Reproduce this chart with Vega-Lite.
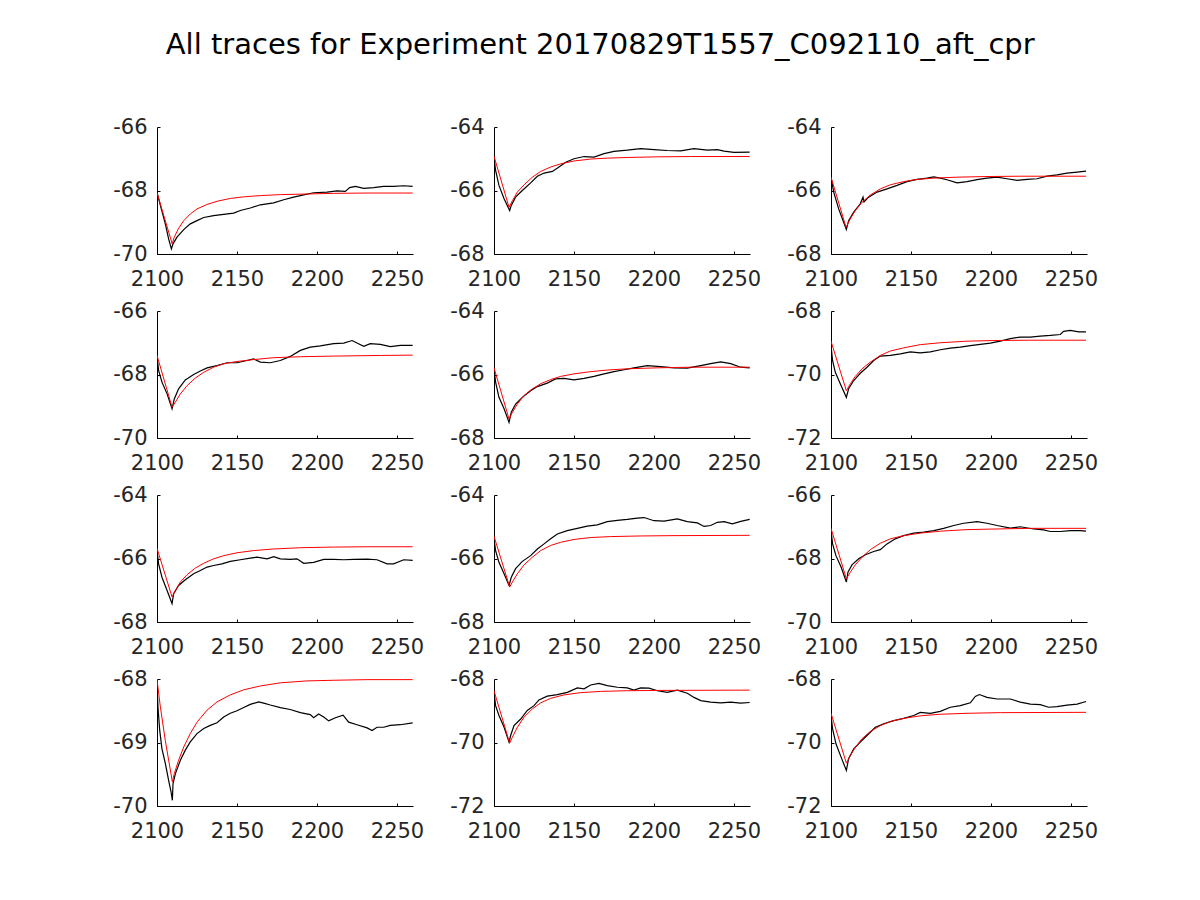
{
"$schema":"https://vega.github.io/schema/vega-lite/v6.json",
"padding":{"left":112,"top":31,"right":5,"bottom":5},
"title":{"text":"All traces for Experiment 20170829T1557_C092110_aft_cpr","fontSize":29,"font":"DejaVu Sans","fontWeight":"normal","color":"#000000","anchor":"middle","offset":56,"dx":-5},
"config":{"view":{"stroke":null},"axis":{"grid":false,"domainColor":"#000000","tickColor":"#000000","tickSize":-3,"labelPadding":13,"labelFont":"DejaVu Sans","labelFontSize":21,"labelColor":"#262626","labelFlush":false,"labelOverlap":false,"domainWidth":1,"tickWidth":1,"labelExpr":"'' + datum.value"},"axisX":{"labelPadding":17}},
"datasets":{"d":[
{"p":1,"s":"t","x":2100,"y":-68.05},{"p":1,"s":"t","x":2102.1,"y":-68.47},{"p":1,"s":"t","x":2105.2,"y":-69.05},{"p":1,"s":"t","x":2107.3,"y":-69.53},{"p":1,"s":"t","x":2109,"y":-69.84},{"p":1,"s":"t","x":2110,"y":-69.68},{"p":1,"s":"t","x":2112.5,"y":-69.47},{"p":1,"s":"t","x":2116.7,"y":-69.23},{"p":1,"s":"t","x":2120.8,"y":-69.05},{"p":1,"s":"t","x":2125,"y":-68.95},{"p":1,"s":"t","x":2129.2,"y":-68.85},{"p":1,"s":"t","x":2135.4,"y":-68.79},{"p":1,"s":"t","x":2141.7,"y":-68.75},{"p":1,"s":"t","x":2147.9,"y":-68.71},{"p":1,"s":"t","x":2152.1,"y":-68.63},{"p":1,"s":"t","x":2158.3,"y":-68.55},{"p":1,"s":"t","x":2164.6,"y":-68.45},{"p":1,"s":"t","x":2172.9,"y":-68.39},{"p":1,"s":"t","x":2179.2,"y":-68.29},{"p":1,"s":"t","x":2185.4,"y":-68.21},{"p":1,"s":"t","x":2191.7,"y":-68.14},{"p":1,"s":"t","x":2197.9,"y":-68.07},{"p":1,"s":"t","x":2206.3,"y":-68.05},{"p":1,"s":"t","x":2212.5,"y":-68.01},{"p":1,"s":"t","x":2217.7,"y":-68.03},{"p":1,"s":"t","x":2220.4,"y":-67.91},{"p":1,"s":"t","x":2224,"y":-67.87},{"p":1,"s":"t","x":2229.2,"y":-67.93},{"p":1,"s":"t","x":2235.4,"y":-67.91},{"p":1,"s":"t","x":2241.7,"y":-67.87},{"p":1,"s":"t","x":2247.9,"y":-67.87},{"p":1,"s":"t","x":2254.2,"y":-67.85},{"p":1,"s":"t","x":2259.8,"y":-67.87},
{"p":1,"s":"f","x":2100,"y":-68.07},{"p":1,"s":"f","x":2109.5,"y":-69.68},{"p":1,"s":"f","x":2110.8,"y":-69.47},{"p":1,"s":"f","x":2113.5,"y":-69.19},{"p":1,"s":"f","x":2116.7,"y":-68.95},{"p":1,"s":"f","x":2120.8,"y":-68.74},{"p":1,"s":"f","x":2125,"y":-68.58},{"p":1,"s":"f","x":2131.3,"y":-68.44},{"p":1,"s":"f","x":2137.5,"y":-68.34},{"p":1,"s":"f","x":2145.8,"y":-68.25},{"p":1,"s":"f","x":2154.2,"y":-68.2},{"p":1,"s":"f","x":2164.6,"y":-68.16},{"p":1,"s":"f","x":2177.1,"y":-68.13},{"p":1,"s":"f","x":2193.8,"y":-68.11},{"p":1,"s":"f","x":2210.4,"y":-68.09},{"p":1,"s":"f","x":2231.3,"y":-68.08},{"p":1,"s":"f","x":2259.8,"y":-68.08},
{"p":2,"s":"t","x":2100,"y":-64.95},{"p":2,"s":"t","x":2101,"y":-65.37},{"p":2,"s":"t","x":2103.1,"y":-65.84},{"p":2,"s":"t","x":2106.3,"y":-66.26},{"p":2,"s":"t","x":2109.8,"y":-66.63},{"p":2,"s":"t","x":2110.8,"y":-66.47},{"p":2,"s":"t","x":2113.5,"y":-66.21},{"p":2,"s":"t","x":2117.7,"y":-66},{"p":2,"s":"t","x":2122.9,"y":-65.76},{"p":2,"s":"t","x":2127.1,"y":-65.55},{"p":2,"s":"t","x":2131.3,"y":-65.45},{"p":2,"s":"t","x":2136.5,"y":-65.4},{"p":2,"s":"t","x":2140.6,"y":-65.26},{"p":2,"s":"t","x":2144.8,"y":-65.11},{"p":2,"s":"t","x":2150,"y":-65},{"p":2,"s":"t","x":2156.3,"y":-64.93},{"p":2,"s":"t","x":2162.5,"y":-64.95},{"p":2,"s":"t","x":2168.8,"y":-64.84},{"p":2,"s":"t","x":2175,"y":-64.77},{"p":2,"s":"t","x":2183.3,"y":-64.73},{"p":2,"s":"t","x":2191.7,"y":-64.68},{"p":2,"s":"t","x":2200,"y":-64.71},{"p":2,"s":"t","x":2208.3,"y":-64.74},{"p":2,"s":"t","x":2216.7,"y":-64.75},{"p":2,"s":"t","x":2225,"y":-64.68},{"p":2,"s":"t","x":2233.3,"y":-64.73},{"p":2,"s":"t","x":2239.6,"y":-64.71},{"p":2,"s":"t","x":2243.8,"y":-64.76},{"p":2,"s":"t","x":2250,"y":-64.8},{"p":2,"s":"t","x":2259.8,"y":-64.79},
{"p":2,"s":"f","x":2100,"y":-64.92},{"p":2,"s":"f","x":2109.4,"y":-66.53},{"p":2,"s":"f","x":2111.5,"y":-66.32},{"p":2,"s":"f","x":2114.6,"y":-66.05},{"p":2,"s":"f","x":2118.8,"y":-65.82},{"p":2,"s":"f","x":2124,"y":-65.58},{"p":2,"s":"f","x":2129.2,"y":-65.4},{"p":2,"s":"f","x":2135.4,"y":-65.26},{"p":2,"s":"f","x":2141.7,"y":-65.16},{"p":2,"s":"f","x":2150,"y":-65.07},{"p":2,"s":"f","x":2160.4,"y":-65.01},{"p":2,"s":"f","x":2170.8,"y":-64.98},{"p":2,"s":"f","x":2183.3,"y":-64.96},{"p":2,"s":"f","x":2202.1,"y":-64.94},{"p":2,"s":"f","x":2222.9,"y":-64.93},{"p":2,"s":"f","x":2259.8,"y":-64.93},
{"p":3,"s":"t","x":2100,"y":-65.58},{"p":3,"s":"t","x":2101.7,"y":-66.05},{"p":3,"s":"t","x":2104.8,"y":-66.58},{"p":3,"s":"t","x":2107.9,"y":-67},{"p":3,"s":"t","x":2109.6,"y":-67.23},{"p":3,"s":"t","x":2111,"y":-66.95},{"p":3,"s":"t","x":2114.2,"y":-66.68},{"p":3,"s":"t","x":2118.3,"y":-66.42},{"p":3,"s":"t","x":2120,"y":-66.21},{"p":3,"s":"t","x":2120.6,"y":-66.36},{"p":3,"s":"t","x":2123.5,"y":-66.21},{"p":3,"s":"t","x":2128.8,"y":-66.05},{"p":3,"s":"t","x":2135,"y":-65.95},{"p":3,"s":"t","x":2141.3,"y":-65.84},{"p":3,"s":"t","x":2147.5,"y":-65.72},{"p":3,"s":"t","x":2153.8,"y":-65.65},{"p":3,"s":"t","x":2160,"y":-65.61},{"p":3,"s":"t","x":2164.2,"y":-65.57},{"p":3,"s":"t","x":2168.3,"y":-65.61},{"p":3,"s":"t","x":2172.5,"y":-65.66},{"p":3,"s":"t","x":2178.8,"y":-65.76},{"p":3,"s":"t","x":2185,"y":-65.72},{"p":3,"s":"t","x":2191.3,"y":-65.66},{"p":3,"s":"t","x":2197.5,"y":-65.61},{"p":3,"s":"t","x":2203.8,"y":-65.58},{"p":3,"s":"t","x":2210,"y":-65.63},{"p":3,"s":"t","x":2216.3,"y":-65.68},{"p":3,"s":"t","x":2222.5,"y":-65.65},{"p":3,"s":"t","x":2228.8,"y":-65.63},{"p":3,"s":"t","x":2235,"y":-65.55},{"p":3,"s":"t","x":2241.3,"y":-65.51},{"p":3,"s":"t","x":2247.5,"y":-65.45},{"p":3,"s":"t","x":2253.8,"y":-65.42},{"p":3,"s":"t","x":2259.4,"y":-65.39},
{"p":3,"s":"f","x":2100,"y":-65.58},{"p":3,"s":"f","x":2109.4,"y":-67.16},{"p":3,"s":"f","x":2112.1,"y":-66.89},{"p":3,"s":"f","x":2115.2,"y":-66.63},{"p":3,"s":"f","x":2119.4,"y":-66.37},{"p":3,"s":"f","x":2124.6,"y":-66.14},{"p":3,"s":"f","x":2130.8,"y":-65.95},{"p":3,"s":"f","x":2137.1,"y":-65.82},{"p":3,"s":"f","x":2145.4,"y":-65.72},{"p":3,"s":"f","x":2153.8,"y":-65.65},{"p":3,"s":"f","x":2164.2,"y":-65.61},{"p":3,"s":"f","x":2178.8,"y":-65.58},{"p":3,"s":"f","x":2197.5,"y":-65.56},{"p":3,"s":"f","x":2218.3,"y":-65.55},{"p":3,"s":"f","x":2259.4,"y":-65.55},
{"p":4,"s":"t","x":2100,"y":-67.43},{"p":4,"s":"t","x":2101,"y":-67.87},{"p":4,"s":"t","x":2103.1,"y":-68.24},{"p":4,"s":"t","x":2106.3,"y":-68.61},{"p":4,"s":"t","x":2109.4,"y":-69.08},{"p":4,"s":"t","x":2110.8,"y":-68.77},{"p":4,"s":"t","x":2113.5,"y":-68.45},{"p":4,"s":"t","x":2117.7,"y":-68.17},{"p":4,"s":"t","x":2122.9,"y":-68},{"p":4,"s":"t","x":2127.1,"y":-67.89},{"p":4,"s":"t","x":2131.3,"y":-67.79},{"p":4,"s":"t","x":2137.5,"y":-67.72},{"p":4,"s":"t","x":2143.8,"y":-67.63},{"p":4,"s":"t","x":2150,"y":-67.63},{"p":4,"s":"t","x":2156.3,"y":-67.56},{"p":4,"s":"t","x":2160.4,"y":-67.51},{"p":4,"s":"t","x":2164.6,"y":-67.61},{"p":4,"s":"t","x":2170.8,"y":-67.63},{"p":4,"s":"t","x":2177.1,"y":-67.56},{"p":4,"s":"t","x":2183.3,"y":-67.43},{"p":4,"s":"t","x":2189.6,"y":-67.24},{"p":4,"s":"t","x":2195.8,"y":-67.14},{"p":4,"s":"t","x":2202.1,"y":-67.1},{"p":4,"s":"t","x":2210.4,"y":-67.03},{"p":4,"s":"t","x":2216.7,"y":-67.01},{"p":4,"s":"t","x":2221.9,"y":-66.93},{"p":4,"s":"t","x":2225,"y":-67.01},{"p":4,"s":"t","x":2229.2,"y":-67.11},{"p":4,"s":"t","x":2233.3,"y":-67.03},{"p":4,"s":"t","x":2239.6,"y":-67.05},{"p":4,"s":"t","x":2245.8,"y":-67.12},{"p":4,"s":"t","x":2252.1,"y":-67.08},{"p":4,"s":"t","x":2259.8,"y":-67.08},
{"p":4,"s":"f","x":2100,"y":-67.4},{"p":4,"s":"f","x":2109.4,"y":-69.03},{"p":4,"s":"f","x":2111.5,"y":-68.87},{"p":4,"s":"f","x":2114.6,"y":-68.61},{"p":4,"s":"f","x":2118.8,"y":-68.35},{"p":4,"s":"f","x":2124,"y":-68.11},{"p":4,"s":"f","x":2129.2,"y":-67.93},{"p":4,"s":"f","x":2135.4,"y":-67.77},{"p":4,"s":"f","x":2141.7,"y":-67.66},{"p":4,"s":"f","x":2150,"y":-67.59},{"p":4,"s":"f","x":2160.4,"y":-67.53},{"p":4,"s":"f","x":2172.9,"y":-67.47},{"p":4,"s":"f","x":2189.6,"y":-67.44},{"p":4,"s":"f","x":2210.4,"y":-67.42},{"p":4,"s":"f","x":2239.6,"y":-67.4},{"p":4,"s":"f","x":2259.8,"y":-67.39},
{"p":5,"s":"t","x":2100,"y":-65.82},{"p":5,"s":"t","x":2101,"y":-66.24},{"p":5,"s":"t","x":2103.1,"y":-66.72},{"p":5,"s":"t","x":2106.3,"y":-67.08},{"p":5,"s":"t","x":2109.4,"y":-67.51},{"p":5,"s":"t","x":2110.8,"y":-67.19},{"p":5,"s":"t","x":2113.5,"y":-66.93},{"p":5,"s":"t","x":2117.7,"y":-66.72},{"p":5,"s":"t","x":2122.9,"y":-66.51},{"p":5,"s":"t","x":2127.1,"y":-66.38},{"p":5,"s":"t","x":2133.3,"y":-66.27},{"p":5,"s":"t","x":2138.5,"y":-66.14},{"p":5,"s":"t","x":2143.8,"y":-66.12},{"p":5,"s":"t","x":2150,"y":-66.17},{"p":5,"s":"t","x":2156.3,"y":-66.12},{"p":5,"s":"t","x":2162.5,"y":-66.06},{"p":5,"s":"t","x":2168.8,"y":-65.98},{"p":5,"s":"t","x":2175,"y":-65.91},{"p":5,"s":"t","x":2181.3,"y":-65.85},{"p":5,"s":"t","x":2187.5,"y":-65.79},{"p":5,"s":"t","x":2195.8,"y":-65.72},{"p":5,"s":"t","x":2204.2,"y":-65.75},{"p":5,"s":"t","x":2212.5,"y":-65.79},{"p":5,"s":"t","x":2220.8,"y":-65.8},{"p":5,"s":"t","x":2229.2,"y":-65.72},{"p":5,"s":"t","x":2235.4,"y":-65.66},{"p":5,"s":"t","x":2241.7,"y":-65.6},{"p":5,"s":"t","x":2247.9,"y":-65.66},{"p":5,"s":"t","x":2254.2,"y":-65.77},{"p":5,"s":"t","x":2259.8,"y":-65.79},
{"p":5,"s":"f","x":2100,"y":-65.79},{"p":5,"s":"f","x":2109.4,"y":-67.4},{"p":5,"s":"f","x":2111.5,"y":-67.19},{"p":5,"s":"f","x":2114.6,"y":-66.93},{"p":5,"s":"f","x":2118.8,"y":-66.66},{"p":5,"s":"f","x":2124,"y":-66.45},{"p":5,"s":"f","x":2129.2,"y":-66.29},{"p":5,"s":"f","x":2135.4,"y":-66.16},{"p":5,"s":"f","x":2141.7,"y":-66.06},{"p":5,"s":"f","x":2150,"y":-65.98},{"p":5,"s":"f","x":2160.4,"y":-65.91},{"p":5,"s":"f","x":2170.8,"y":-65.86},{"p":5,"s":"f","x":2183.3,"y":-65.82},{"p":5,"s":"f","x":2202.1,"y":-65.79},{"p":5,"s":"f","x":2222.9,"y":-65.77},{"p":5,"s":"f","x":2259.8,"y":-65.77},
{"p":6,"s":"t","x":2100,"y":-69.08},{"p":6,"s":"t","x":2101,"y":-69.56},{"p":6,"s":"t","x":2102.7,"y":-69.93},{"p":6,"s":"t","x":2105.8,"y":-70.29},{"p":6,"s":"t","x":2109.6,"y":-70.72},{"p":6,"s":"t","x":2111,"y":-70.45},{"p":6,"s":"t","x":2114.2,"y":-70.19},{"p":6,"s":"t","x":2118.3,"y":-69.96},{"p":6,"s":"t","x":2122.5,"y":-69.77},{"p":6,"s":"t","x":2126.7,"y":-69.56},{"p":6,"s":"t","x":2130.8,"y":-69.42},{"p":6,"s":"t","x":2137.1,"y":-69.4},{"p":6,"s":"t","x":2143.3,"y":-69.35},{"p":6,"s":"t","x":2149.6,"y":-69.29},{"p":6,"s":"t","x":2155.8,"y":-69.32},{"p":6,"s":"t","x":2162.1,"y":-69.29},{"p":6,"s":"t","x":2168.3,"y":-69.22},{"p":6,"s":"t","x":2174.6,"y":-69.17},{"p":6,"s":"t","x":2180.8,"y":-69.14},{"p":6,"s":"t","x":2187.1,"y":-69.09},{"p":6,"s":"t","x":2193.3,"y":-69.05},{"p":6,"s":"t","x":2199.6,"y":-69.01},{"p":6,"s":"t","x":2205.8,"y":-68.95},{"p":6,"s":"t","x":2212.1,"y":-68.87},{"p":6,"s":"t","x":2218.3,"y":-68.82},{"p":6,"s":"t","x":2224.6,"y":-68.82},{"p":6,"s":"t","x":2230.8,"y":-68.79},{"p":6,"s":"t","x":2237.1,"y":-68.77},{"p":6,"s":"t","x":2243.3,"y":-68.74},{"p":6,"s":"t","x":2245.4,"y":-68.64},{"p":6,"s":"t","x":2249.6,"y":-68.61},{"p":6,"s":"t","x":2254.8,"y":-68.66},{"p":6,"s":"t","x":2259.4,"y":-68.66},
{"p":6,"s":"f","x":2100,"y":-68.95},{"p":6,"s":"f","x":2109.6,"y":-70.51},{"p":6,"s":"f","x":2112.1,"y":-70.29},{"p":6,"s":"f","x":2115.2,"y":-70.06},{"p":6,"s":"f","x":2119.4,"y":-69.82},{"p":6,"s":"f","x":2124.6,"y":-69.61},{"p":6,"s":"f","x":2130.8,"y":-69.4},{"p":6,"s":"f","x":2137.1,"y":-69.26},{"p":6,"s":"f","x":2145.4,"y":-69.16},{"p":6,"s":"f","x":2155.8,"y":-69.06},{"p":6,"s":"f","x":2168.3,"y":-69},{"p":6,"s":"f","x":2185,"y":-68.95},{"p":6,"s":"f","x":2201.7,"y":-68.93},{"p":6,"s":"f","x":2224.6,"y":-68.92},{"p":6,"s":"f","x":2259.4,"y":-68.92},
{"p":7,"s":"t","x":2100,"y":-65.75},{"p":7,"s":"t","x":2101,"y":-66.17},{"p":7,"s":"t","x":2103.1,"y":-66.59},{"p":7,"s":"t","x":2106.3,"y":-67.01},{"p":7,"s":"t","x":2109.4,"y":-67.42},{"p":7,"s":"t","x":2110.4,"y":-67.11},{"p":7,"s":"t","x":2113.5,"y":-66.85},{"p":7,"s":"t","x":2117.7,"y":-66.67},{"p":7,"s":"t","x":2122.9,"y":-66.48},{"p":7,"s":"t","x":2127.1,"y":-66.38},{"p":7,"s":"t","x":2131.3,"y":-66.27},{"p":7,"s":"t","x":2135.4,"y":-66.22},{"p":7,"s":"t","x":2140.6,"y":-66.17},{"p":7,"s":"t","x":2145.8,"y":-66.09},{"p":7,"s":"t","x":2152.1,"y":-66.04},{"p":7,"s":"t","x":2158.3,"y":-65.99},{"p":7,"s":"t","x":2162.5,"y":-65.96},{"p":7,"s":"t","x":2168.8,"y":-66.01},{"p":7,"s":"t","x":2172.9,"y":-65.94},{"p":7,"s":"t","x":2177.1,"y":-66.01},{"p":7,"s":"t","x":2183.3,"y":-66.03},{"p":7,"s":"t","x":2187.5,"y":-66.01},{"p":7,"s":"t","x":2191.7,"y":-66.15},{"p":7,"s":"t","x":2197.9,"y":-66.12},{"p":7,"s":"t","x":2204.2,"y":-66.03},{"p":7,"s":"t","x":2210.4,"y":-66.03},{"p":7,"s":"t","x":2216.7,"y":-66.04},{"p":7,"s":"t","x":2222.9,"y":-66.03},{"p":7,"s":"t","x":2231.3,"y":-66.02},{"p":7,"s":"t","x":2237.5,"y":-66.04},{"p":7,"s":"t","x":2243.8,"y":-66.17},{"p":7,"s":"t","x":2247.9,"y":-66.17},{"p":7,"s":"t","x":2254.2,"y":-66.04},{"p":7,"s":"t","x":2259.8,"y":-66.06},
{"p":7,"s":"f","x":2100,"y":-65.68},{"p":7,"s":"f","x":2109.4,"y":-67.21},{"p":7,"s":"f","x":2111.5,"y":-67.01},{"p":7,"s":"f","x":2114.6,"y":-66.74},{"p":7,"s":"f","x":2118.8,"y":-66.51},{"p":7,"s":"f","x":2124,"y":-66.3},{"p":7,"s":"f","x":2129.2,"y":-66.15},{"p":7,"s":"f","x":2135.4,"y":-66.01},{"p":7,"s":"f","x":2141.7,"y":-65.91},{"p":7,"s":"f","x":2150,"y":-65.82},{"p":7,"s":"f","x":2160.4,"y":-65.75},{"p":7,"s":"f","x":2172.9,"y":-65.7},{"p":7,"s":"f","x":2189.6,"y":-65.66},{"p":7,"s":"f","x":2210.4,"y":-65.64},{"p":7,"s":"f","x":2231.3,"y":-65.63},{"p":7,"s":"f","x":2259.8,"y":-65.63},
{"p":8,"s":"t","x":2100,"y":-65.38},{"p":8,"s":"t","x":2101,"y":-65.75},{"p":8,"s":"t","x":2103.1,"y":-66.12},{"p":8,"s":"t","x":2106.3,"y":-66.48},{"p":8,"s":"t","x":2109.4,"y":-66.85},{"p":8,"s":"t","x":2110.8,"y":-66.59},{"p":8,"s":"t","x":2113.5,"y":-66.32},{"p":8,"s":"t","x":2117.7,"y":-66.09},{"p":8,"s":"t","x":2122.9,"y":-65.91},{"p":8,"s":"t","x":2127.1,"y":-65.7},{"p":8,"s":"t","x":2131.3,"y":-65.54},{"p":8,"s":"t","x":2135.4,"y":-65.38},{"p":8,"s":"t","x":2139.6,"y":-65.23},{"p":8,"s":"t","x":2145.8,"y":-65.12},{"p":8,"s":"t","x":2152.1,"y":-65.05},{"p":8,"s":"t","x":2158.3,"y":-64.98},{"p":8,"s":"t","x":2164.6,"y":-64.94},{"p":8,"s":"t","x":2170.8,"y":-64.84},{"p":8,"s":"t","x":2177.1,"y":-64.8},{"p":8,"s":"t","x":2183.3,"y":-64.77},{"p":8,"s":"t","x":2189.6,"y":-64.73},{"p":8,"s":"t","x":2193.8,"y":-64.71},{"p":8,"s":"t","x":2200,"y":-64.81},{"p":8,"s":"t","x":2206.3,"y":-64.82},{"p":8,"s":"t","x":2214.6,"y":-64.75},{"p":8,"s":"t","x":2220.8,"y":-64.84},{"p":8,"s":"t","x":2227.1,"y":-64.88},{"p":8,"s":"t","x":2231.3,"y":-64.99},{"p":8,"s":"t","x":2235.4,"y":-64.96},{"p":8,"s":"t","x":2239.6,"y":-64.86},{"p":8,"s":"t","x":2243.8,"y":-64.84},{"p":8,"s":"t","x":2249,"y":-64.91},{"p":8,"s":"t","x":2254.2,"y":-64.83},{"p":8,"s":"t","x":2259.8,"y":-64.77},
{"p":8,"s":"f","x":2100,"y":-65.3},{"p":8,"s":"f","x":2109.8,"y":-66.9},{"p":8,"s":"f","x":2111.5,"y":-66.74},{"p":8,"s":"f","x":2114.6,"y":-66.48},{"p":8,"s":"f","x":2118.8,"y":-66.2},{"p":8,"s":"f","x":2124,"y":-65.96},{"p":8,"s":"f","x":2129.2,"y":-65.75},{"p":8,"s":"f","x":2135.4,"y":-65.59},{"p":8,"s":"f","x":2141.7,"y":-65.49},{"p":8,"s":"f","x":2150,"y":-65.4},{"p":8,"s":"f","x":2160.4,"y":-65.34},{"p":8,"s":"f","x":2172.9,"y":-65.31},{"p":8,"s":"f","x":2191.7,"y":-65.29},{"p":8,"s":"f","x":2212.5,"y":-65.28},{"p":8,"s":"f","x":2259.8,"y":-65.27},
{"p":9,"s":"t","x":2100,"y":-67.12},{"p":9,"s":"t","x":2101,"y":-67.54},{"p":9,"s":"t","x":2103.1,"y":-67.91},{"p":9,"s":"t","x":2106.3,"y":-68.27},{"p":9,"s":"t","x":2109.6,"y":-68.74},{"p":9,"s":"t","x":2110.6,"y":-68.43},{"p":9,"s":"t","x":2113.1,"y":-68.2},{"p":9,"s":"t","x":2117.3,"y":-68.01},{"p":9,"s":"t","x":2121.5,"y":-67.88},{"p":9,"s":"t","x":2126.7,"y":-67.78},{"p":9,"s":"t","x":2130.8,"y":-67.72},{"p":9,"s":"t","x":2135,"y":-67.54},{"p":9,"s":"t","x":2140.2,"y":-67.38},{"p":9,"s":"t","x":2145.4,"y":-67.28},{"p":9,"s":"t","x":2151.7,"y":-67.2},{"p":9,"s":"t","x":2157.9,"y":-67.17},{"p":9,"s":"t","x":2164.2,"y":-67.12},{"p":9,"s":"t","x":2170.4,"y":-67.05},{"p":9,"s":"t","x":2176.7,"y":-66.96},{"p":9,"s":"t","x":2182.9,"y":-66.89},{"p":9,"s":"t","x":2191.3,"y":-66.84},{"p":9,"s":"t","x":2197.5,"y":-66.89},{"p":9,"s":"t","x":2203.8,"y":-66.96},{"p":9,"s":"t","x":2212.1,"y":-67.04},{"p":9,"s":"t","x":2218.3,"y":-67},{"p":9,"s":"t","x":2226.7,"y":-67.07},{"p":9,"s":"t","x":2232.9,"y":-67.1},{"p":9,"s":"t","x":2237.1,"y":-67.15},{"p":9,"s":"t","x":2243.3,"y":-67.15},{"p":9,"s":"t","x":2249.6,"y":-67.12},{"p":9,"s":"t","x":2255.8,"y":-67.12},{"p":9,"s":"t","x":2259.4,"y":-67.14},
{"p":9,"s":"f","x":2100,"y":-67.05},{"p":9,"s":"f","x":2109.6,"y":-68.64},{"p":9,"s":"f","x":2112.1,"y":-68.43},{"p":9,"s":"f","x":2115.2,"y":-68.2},{"p":9,"s":"f","x":2119.4,"y":-67.96},{"p":9,"s":"f","x":2124.6,"y":-67.72},{"p":9,"s":"f","x":2130.8,"y":-67.52},{"p":9,"s":"f","x":2137.1,"y":-67.38},{"p":9,"s":"f","x":2145.4,"y":-67.28},{"p":9,"s":"f","x":2155.8,"y":-67.2},{"p":9,"s":"f","x":2168.3,"y":-67.14},{"p":9,"s":"f","x":2185,"y":-67.09},{"p":9,"s":"f","x":2203.8,"y":-67.07},{"p":9,"s":"f","x":2224.6,"y":-67.05},{"p":9,"s":"f","x":2259.4,"y":-67.05},
{"p":10,"s":"t","x":2100,"y":-68.07},{"p":10,"s":"t","x":2100.6,"y":-68.44},{"p":10,"s":"t","x":2101.7,"y":-68.81},{"p":10,"s":"t","x":2103.1,"y":-69.1},{"p":10,"s":"t","x":2105.2,"y":-69.33},{"p":10,"s":"t","x":2107.3,"y":-69.6},{"p":10,"s":"t","x":2108.8,"y":-69.78},{"p":10,"s":"t","x":2109.6,"y":-69.91},{"p":10,"s":"t","x":2110,"y":-69.65},{"p":10,"s":"t","x":2111.5,"y":-69.49},{"p":10,"s":"t","x":2114.6,"y":-69.28},{"p":10,"s":"t","x":2117.7,"y":-69.12},{"p":10,"s":"t","x":2120.8,"y":-68.99},{"p":10,"s":"t","x":2125,"y":-68.86},{"p":10,"s":"t","x":2129.2,"y":-68.78},{"p":10,"s":"t","x":2133.3,"y":-68.73},{"p":10,"s":"t","x":2137.5,"y":-68.69},{"p":10,"s":"t","x":2141.7,"y":-68.6},{"p":10,"s":"t","x":2145.8,"y":-68.54},{"p":10,"s":"t","x":2150,"y":-68.5},{"p":10,"s":"t","x":2154.2,"y":-68.45},{"p":10,"s":"t","x":2158.3,"y":-68.4},{"p":10,"s":"t","x":2163.5,"y":-68.36},{"p":10,"s":"t","x":2166.7,"y":-68.38},{"p":10,"s":"t","x":2170.8,"y":-68.41},{"p":10,"s":"t","x":2177.1,"y":-68.45},{"p":10,"s":"t","x":2183.3,"y":-68.48},{"p":10,"s":"t","x":2189.6,"y":-68.53},{"p":10,"s":"t","x":2195.8,"y":-68.56},{"p":10,"s":"t","x":2197.9,"y":-68.61},{"p":10,"s":"t","x":2201,"y":-68.55},{"p":10,"s":"t","x":2204.2,"y":-68.6},{"p":10,"s":"t","x":2207.3,"y":-68.66},{"p":10,"s":"t","x":2211.5,"y":-68.61},{"p":10,"s":"t","x":2216.3,"y":-68.57},{"p":10,"s":"t","x":2219.8,"y":-68.68},{"p":10,"s":"t","x":2225,"y":-68.72},{"p":10,"s":"t","x":2231.3,"y":-68.77},{"p":10,"s":"t","x":2234.4,"y":-68.81},{"p":10,"s":"t","x":2237.5,"y":-68.76},{"p":10,"s":"t","x":2241.7,"y":-68.76},{"p":10,"s":"t","x":2245.8,"y":-68.73},{"p":10,"s":"t","x":2252.1,"y":-68.72},{"p":10,"s":"t","x":2259.8,"y":-68.69},
{"p":10,"s":"f","x":2100,"y":-68.01},{"p":10,"s":"f","x":2102.1,"y":-68.44},{"p":10,"s":"f","x":2105.2,"y":-68.97},{"p":10,"s":"f","x":2109.6,"y":-69.62},{"p":10,"s":"f","x":2110.8,"y":-69.49},{"p":10,"s":"f","x":2113.5,"y":-69.28},{"p":10,"s":"f","x":2116.7,"y":-69.07},{"p":10,"s":"f","x":2120.8,"y":-68.86},{"p":10,"s":"f","x":2125,"y":-68.68},{"p":10,"s":"f","x":2131.3,"y":-68.49},{"p":10,"s":"f","x":2137.5,"y":-68.36},{"p":10,"s":"f","x":2145.8,"y":-68.25},{"p":10,"s":"f","x":2154.2,"y":-68.17},{"p":10,"s":"f","x":2164.6,"y":-68.11},{"p":10,"s":"f","x":2177.1,"y":-68.06},{"p":10,"s":"f","x":2193.8,"y":-68.03},{"p":10,"s":"f","x":2210.4,"y":-68.02},{"p":10,"s":"f","x":2231.3,"y":-68.01},{"p":10,"s":"f","x":2259.8,"y":-68.01},
{"p":11,"s":"t","x":2100,"y":-68.42},{"p":11,"s":"t","x":2101,"y":-68.84},{"p":11,"s":"t","x":2103.1,"y":-69.15},{"p":11,"s":"t","x":2106.3,"y":-69.52},{"p":11,"s":"t","x":2109.4,"y":-69.99},{"p":11,"s":"t","x":2110.4,"y":-69.78},{"p":11,"s":"t","x":2112.5,"y":-69.47},{"p":11,"s":"t","x":2116.7,"y":-69.26},{"p":11,"s":"t","x":2120.8,"y":-68.99},{"p":11,"s":"t","x":2125,"y":-68.84},{"p":11,"s":"t","x":2128.1,"y":-68.66},{"p":11,"s":"t","x":2133.3,"y":-68.54},{"p":11,"s":"t","x":2139.6,"y":-68.49},{"p":11,"s":"t","x":2145.8,"y":-68.42},{"p":11,"s":"t","x":2152.1,"y":-68.28},{"p":11,"s":"t","x":2156.3,"y":-68.31},{"p":11,"s":"t","x":2160.4,"y":-68.19},{"p":11,"s":"t","x":2165.6,"y":-68.14},{"p":11,"s":"t","x":2170.8,"y":-68.21},{"p":11,"s":"t","x":2177.1,"y":-68.26},{"p":11,"s":"t","x":2183.3,"y":-68.28},{"p":11,"s":"t","x":2187.5,"y":-68.35},{"p":11,"s":"t","x":2191.7,"y":-68.28},{"p":11,"s":"t","x":2196.9,"y":-68.29},{"p":11,"s":"t","x":2202.1,"y":-68.37},{"p":11,"s":"t","x":2208.3,"y":-68.42},{"p":11,"s":"t","x":2214.6,"y":-68.35},{"p":11,"s":"t","x":2220.8,"y":-68.45},{"p":11,"s":"t","x":2225,"y":-68.58},{"p":11,"s":"t","x":2229.2,"y":-68.68},{"p":11,"s":"t","x":2235.4,"y":-68.73},{"p":11,"s":"t","x":2241.7,"y":-68.75},{"p":11,"s":"t","x":2247.9,"y":-68.73},{"p":11,"s":"t","x":2254.2,"y":-68.76},{"p":11,"s":"t","x":2259.8,"y":-68.74},
{"p":11,"s":"f","x":2100,"y":-68.37},{"p":11,"s":"f","x":2109.8,"y":-70.02},{"p":11,"s":"f","x":2111.5,"y":-69.83},{"p":11,"s":"f","x":2114.6,"y":-69.52},{"p":11,"s":"f","x":2118.8,"y":-69.2},{"p":11,"s":"f","x":2124,"y":-68.94},{"p":11,"s":"f","x":2129.2,"y":-68.75},{"p":11,"s":"f","x":2135.4,"y":-68.61},{"p":11,"s":"f","x":2143.8,"y":-68.5},{"p":11,"s":"f","x":2154.2,"y":-68.43},{"p":11,"s":"f","x":2166.7,"y":-68.39},{"p":11,"s":"f","x":2183.3,"y":-68.37},{"p":11,"s":"f","x":2202.1,"y":-68.36},{"p":11,"s":"f","x":2259.8,"y":-68.35},
{"p":12,"s":"t","x":2100,"y":-69.15},{"p":12,"s":"t","x":2101,"y":-69.57},{"p":12,"s":"t","x":2103.1,"y":-70.04},{"p":12,"s":"t","x":2106.3,"y":-70.46},{"p":12,"s":"t","x":2109.6,"y":-70.88},{"p":12,"s":"t","x":2111,"y":-70.51},{"p":12,"s":"t","x":2114.2,"y":-70.2},{"p":12,"s":"t","x":2118.3,"y":-69.99},{"p":12,"s":"t","x":2122.5,"y":-69.78},{"p":12,"s":"t","x":2127.7,"y":-69.52},{"p":12,"s":"t","x":2132.9,"y":-69.41},{"p":12,"s":"t","x":2139.2,"y":-69.31},{"p":12,"s":"t","x":2145.4,"y":-69.24},{"p":12,"s":"t","x":2151.7,"y":-69.15},{"p":12,"s":"t","x":2155.8,"y":-69.05},{"p":12,"s":"t","x":2162.1,"y":-69.08},{"p":12,"s":"t","x":2168.3,"y":-69.02},{"p":12,"s":"t","x":2174.6,"y":-68.89},{"p":12,"s":"t","x":2180.8,"y":-68.84},{"p":12,"s":"t","x":2187.1,"y":-68.75},{"p":12,"s":"t","x":2190.2,"y":-68.55},{"p":12,"s":"t","x":2192.7,"y":-68.49},{"p":12,"s":"t","x":2197.5,"y":-68.58},{"p":12,"s":"t","x":2203.8,"y":-68.63},{"p":12,"s":"t","x":2212.1,"y":-68.63},{"p":12,"s":"t","x":2218.3,"y":-68.73},{"p":12,"s":"t","x":2224.6,"y":-68.79},{"p":12,"s":"t","x":2230.8,"y":-68.81},{"p":12,"s":"t","x":2236,"y":-68.89},{"p":12,"s":"t","x":2241.3,"y":-68.87},{"p":12,"s":"t","x":2247.5,"y":-68.82},{"p":12,"s":"t","x":2253.8,"y":-68.79},{"p":12,"s":"t","x":2259.4,"y":-68.71},
{"p":12,"s":"f","x":2100,"y":-69.08},{"p":12,"s":"f","x":2109.6,"y":-70.65},{"p":12,"s":"f","x":2112.1,"y":-70.41},{"p":12,"s":"f","x":2115.2,"y":-70.15},{"p":12,"s":"f","x":2119.4,"y":-69.88},{"p":12,"s":"f","x":2124.6,"y":-69.65},{"p":12,"s":"f","x":2130.8,"y":-69.47},{"p":12,"s":"f","x":2137.1,"y":-69.34},{"p":12,"s":"f","x":2145.4,"y":-69.24},{"p":12,"s":"f","x":2155.8,"y":-69.16},{"p":12,"s":"f","x":2168.3,"y":-69.11},{"p":12,"s":"f","x":2185,"y":-69.08},{"p":12,"s":"f","x":2205.8,"y":-69.06},{"p":12,"s":"f","x":2259.4,"y":-69.05}
]},
"columns":3,
"spacing":{"row":57,"column":81},
"bounds":"flush",
"concat":[
{"width":256,"height":127,"data":{"name":"d"},"transform":[{"filter":"datum.p==1"}],"mark":{"type":"line","clip":true},"encoding":{"x":{"field":"x","type":"quantitative","title":null,"scale":{"domain":[2100,2260]},"axis":{"values":[2100,2150,2200,2250]}},"y":{"field":"y","type":"quantitative","title":null,"scale":{"domain":[-70,-66]},"axis":{"values":[-70,-68,-66]}},"color":{"field":"s","type":"nominal","scale":{"domain":["t","f"],"range":["#000000","#ff0000"]},"legend":null},"strokeWidth":{"field":"s","type":"nominal","scale":{"domain":["t","f"],"range":[1.2,1]},"legend":null}}},
{"width":256,"height":127,"data":{"name":"d"},"transform":[{"filter":"datum.p==2"}],"mark":{"type":"line","clip":true},"encoding":{"x":{"field":"x","type":"quantitative","title":null,"scale":{"domain":[2100,2260]},"axis":{"values":[2100,2150,2200,2250]}},"y":{"field":"y","type":"quantitative","title":null,"scale":{"domain":[-68,-64]},"axis":{"values":[-68,-66,-64]}},"color":{"field":"s","type":"nominal","scale":{"domain":["t","f"],"range":["#000000","#ff0000"]},"legend":null},"strokeWidth":{"field":"s","type":"nominal","scale":{"domain":["t","f"],"range":[1.2,1]},"legend":null}}},
{"width":256,"height":127,"data":{"name":"d"},"transform":[{"filter":"datum.p==3"}],"mark":{"type":"line","clip":true},"encoding":{"x":{"field":"x","type":"quantitative","title":null,"scale":{"domain":[2100,2260]},"axis":{"values":[2100,2150,2200,2250]}},"y":{"field":"y","type":"quantitative","title":null,"scale":{"domain":[-68,-64]},"axis":{"values":[-68,-66,-64]}},"color":{"field":"s","type":"nominal","scale":{"domain":["t","f"],"range":["#000000","#ff0000"]},"legend":null},"strokeWidth":{"field":"s","type":"nominal","scale":{"domain":["t","f"],"range":[1.2,1]},"legend":null}}},
{"width":256,"height":127,"data":{"name":"d"},"transform":[{"filter":"datum.p==4"}],"mark":{"type":"line","clip":true},"encoding":{"x":{"field":"x","type":"quantitative","title":null,"scale":{"domain":[2100,2260]},"axis":{"values":[2100,2150,2200,2250]}},"y":{"field":"y","type":"quantitative","title":null,"scale":{"domain":[-70,-66]},"axis":{"values":[-70,-68,-66]}},"color":{"field":"s","type":"nominal","scale":{"domain":["t","f"],"range":["#000000","#ff0000"]},"legend":null},"strokeWidth":{"field":"s","type":"nominal","scale":{"domain":["t","f"],"range":[1.2,1]},"legend":null}}},
{"width":256,"height":127,"data":{"name":"d"},"transform":[{"filter":"datum.p==5"}],"mark":{"type":"line","clip":true},"encoding":{"x":{"field":"x","type":"quantitative","title":null,"scale":{"domain":[2100,2260]},"axis":{"values":[2100,2150,2200,2250]}},"y":{"field":"y","type":"quantitative","title":null,"scale":{"domain":[-68,-64]},"axis":{"values":[-68,-66,-64]}},"color":{"field":"s","type":"nominal","scale":{"domain":["t","f"],"range":["#000000","#ff0000"]},"legend":null},"strokeWidth":{"field":"s","type":"nominal","scale":{"domain":["t","f"],"range":[1.2,1]},"legend":null}}},
{"width":256,"height":127,"data":{"name":"d"},"transform":[{"filter":"datum.p==6"}],"mark":{"type":"line","clip":true},"encoding":{"x":{"field":"x","type":"quantitative","title":null,"scale":{"domain":[2100,2260]},"axis":{"values":[2100,2150,2200,2250]}},"y":{"field":"y","type":"quantitative","title":null,"scale":{"domain":[-72,-68]},"axis":{"values":[-72,-70,-68]}},"color":{"field":"s","type":"nominal","scale":{"domain":["t","f"],"range":["#000000","#ff0000"]},"legend":null},"strokeWidth":{"field":"s","type":"nominal","scale":{"domain":["t","f"],"range":[1.2,1]},"legend":null}}},
{"width":256,"height":127,"data":{"name":"d"},"transform":[{"filter":"datum.p==7"}],"mark":{"type":"line","clip":true},"encoding":{"x":{"field":"x","type":"quantitative","title":null,"scale":{"domain":[2100,2260]},"axis":{"values":[2100,2150,2200,2250]}},"y":{"field":"y","type":"quantitative","title":null,"scale":{"domain":[-68,-64]},"axis":{"values":[-68,-66,-64]}},"color":{"field":"s","type":"nominal","scale":{"domain":["t","f"],"range":["#000000","#ff0000"]},"legend":null},"strokeWidth":{"field":"s","type":"nominal","scale":{"domain":["t","f"],"range":[1.2,1]},"legend":null}}},
{"width":256,"height":127,"data":{"name":"d"},"transform":[{"filter":"datum.p==8"}],"mark":{"type":"line","clip":true},"encoding":{"x":{"field":"x","type":"quantitative","title":null,"scale":{"domain":[2100,2260]},"axis":{"values":[2100,2150,2200,2250]}},"y":{"field":"y","type":"quantitative","title":null,"scale":{"domain":[-68,-64]},"axis":{"values":[-68,-66,-64]}},"color":{"field":"s","type":"nominal","scale":{"domain":["t","f"],"range":["#000000","#ff0000"]},"legend":null},"strokeWidth":{"field":"s","type":"nominal","scale":{"domain":["t","f"],"range":[1.2,1]},"legend":null}}},
{"width":256,"height":127,"data":{"name":"d"},"transform":[{"filter":"datum.p==9"}],"mark":{"type":"line","clip":true},"encoding":{"x":{"field":"x","type":"quantitative","title":null,"scale":{"domain":[2100,2260]},"axis":{"values":[2100,2150,2200,2250]}},"y":{"field":"y","type":"quantitative","title":null,"scale":{"domain":[-70,-66]},"axis":{"values":[-70,-68,-66]}},"color":{"field":"s","type":"nominal","scale":{"domain":["t","f"],"range":["#000000","#ff0000"]},"legend":null},"strokeWidth":{"field":"s","type":"nominal","scale":{"domain":["t","f"],"range":[1.2,1]},"legend":null}}},
{"width":256,"height":127,"data":{"name":"d"},"transform":[{"filter":"datum.p==10"}],"mark":{"type":"line","clip":true},"encoding":{"x":{"field":"x","type":"quantitative","title":null,"scale":{"domain":[2100,2260]},"axis":{"values":[2100,2150,2200,2250]}},"y":{"field":"y","type":"quantitative","title":null,"scale":{"domain":[-70,-68]},"axis":{"values":[-70,-69,-68]}},"color":{"field":"s","type":"nominal","scale":{"domain":["t","f"],"range":["#000000","#ff0000"]},"legend":null},"strokeWidth":{"field":"s","type":"nominal","scale":{"domain":["t","f"],"range":[1.6,1]},"legend":null}}},
{"width":256,"height":127,"data":{"name":"d"},"transform":[{"filter":"datum.p==11"}],"mark":{"type":"line","clip":true},"encoding":{"x":{"field":"x","type":"quantitative","title":null,"scale":{"domain":[2100,2260]},"axis":{"values":[2100,2150,2200,2250]}},"y":{"field":"y","type":"quantitative","title":null,"scale":{"domain":[-72,-68]},"axis":{"values":[-72,-70,-68]}},"color":{"field":"s","type":"nominal","scale":{"domain":["t","f"],"range":["#000000","#ff0000"]},"legend":null},"strokeWidth":{"field":"s","type":"nominal","scale":{"domain":["t","f"],"range":[1.2,1]},"legend":null}}},
{"width":256,"height":127,"data":{"name":"d"},"transform":[{"filter":"datum.p==12"}],"mark":{"type":"line","clip":true},"encoding":{"x":{"field":"x","type":"quantitative","title":null,"scale":{"domain":[2100,2260]},"axis":{"values":[2100,2150,2200,2250]}},"y":{"field":"y","type":"quantitative","title":null,"scale":{"domain":[-72,-68]},"axis":{"values":[-72,-70,-68]}},"color":{"field":"s","type":"nominal","scale":{"domain":["t","f"],"range":["#000000","#ff0000"]},"legend":null},"strokeWidth":{"field":"s","type":"nominal","scale":{"domain":["t","f"],"range":[1.2,1]},"legend":null}}}
]
}
